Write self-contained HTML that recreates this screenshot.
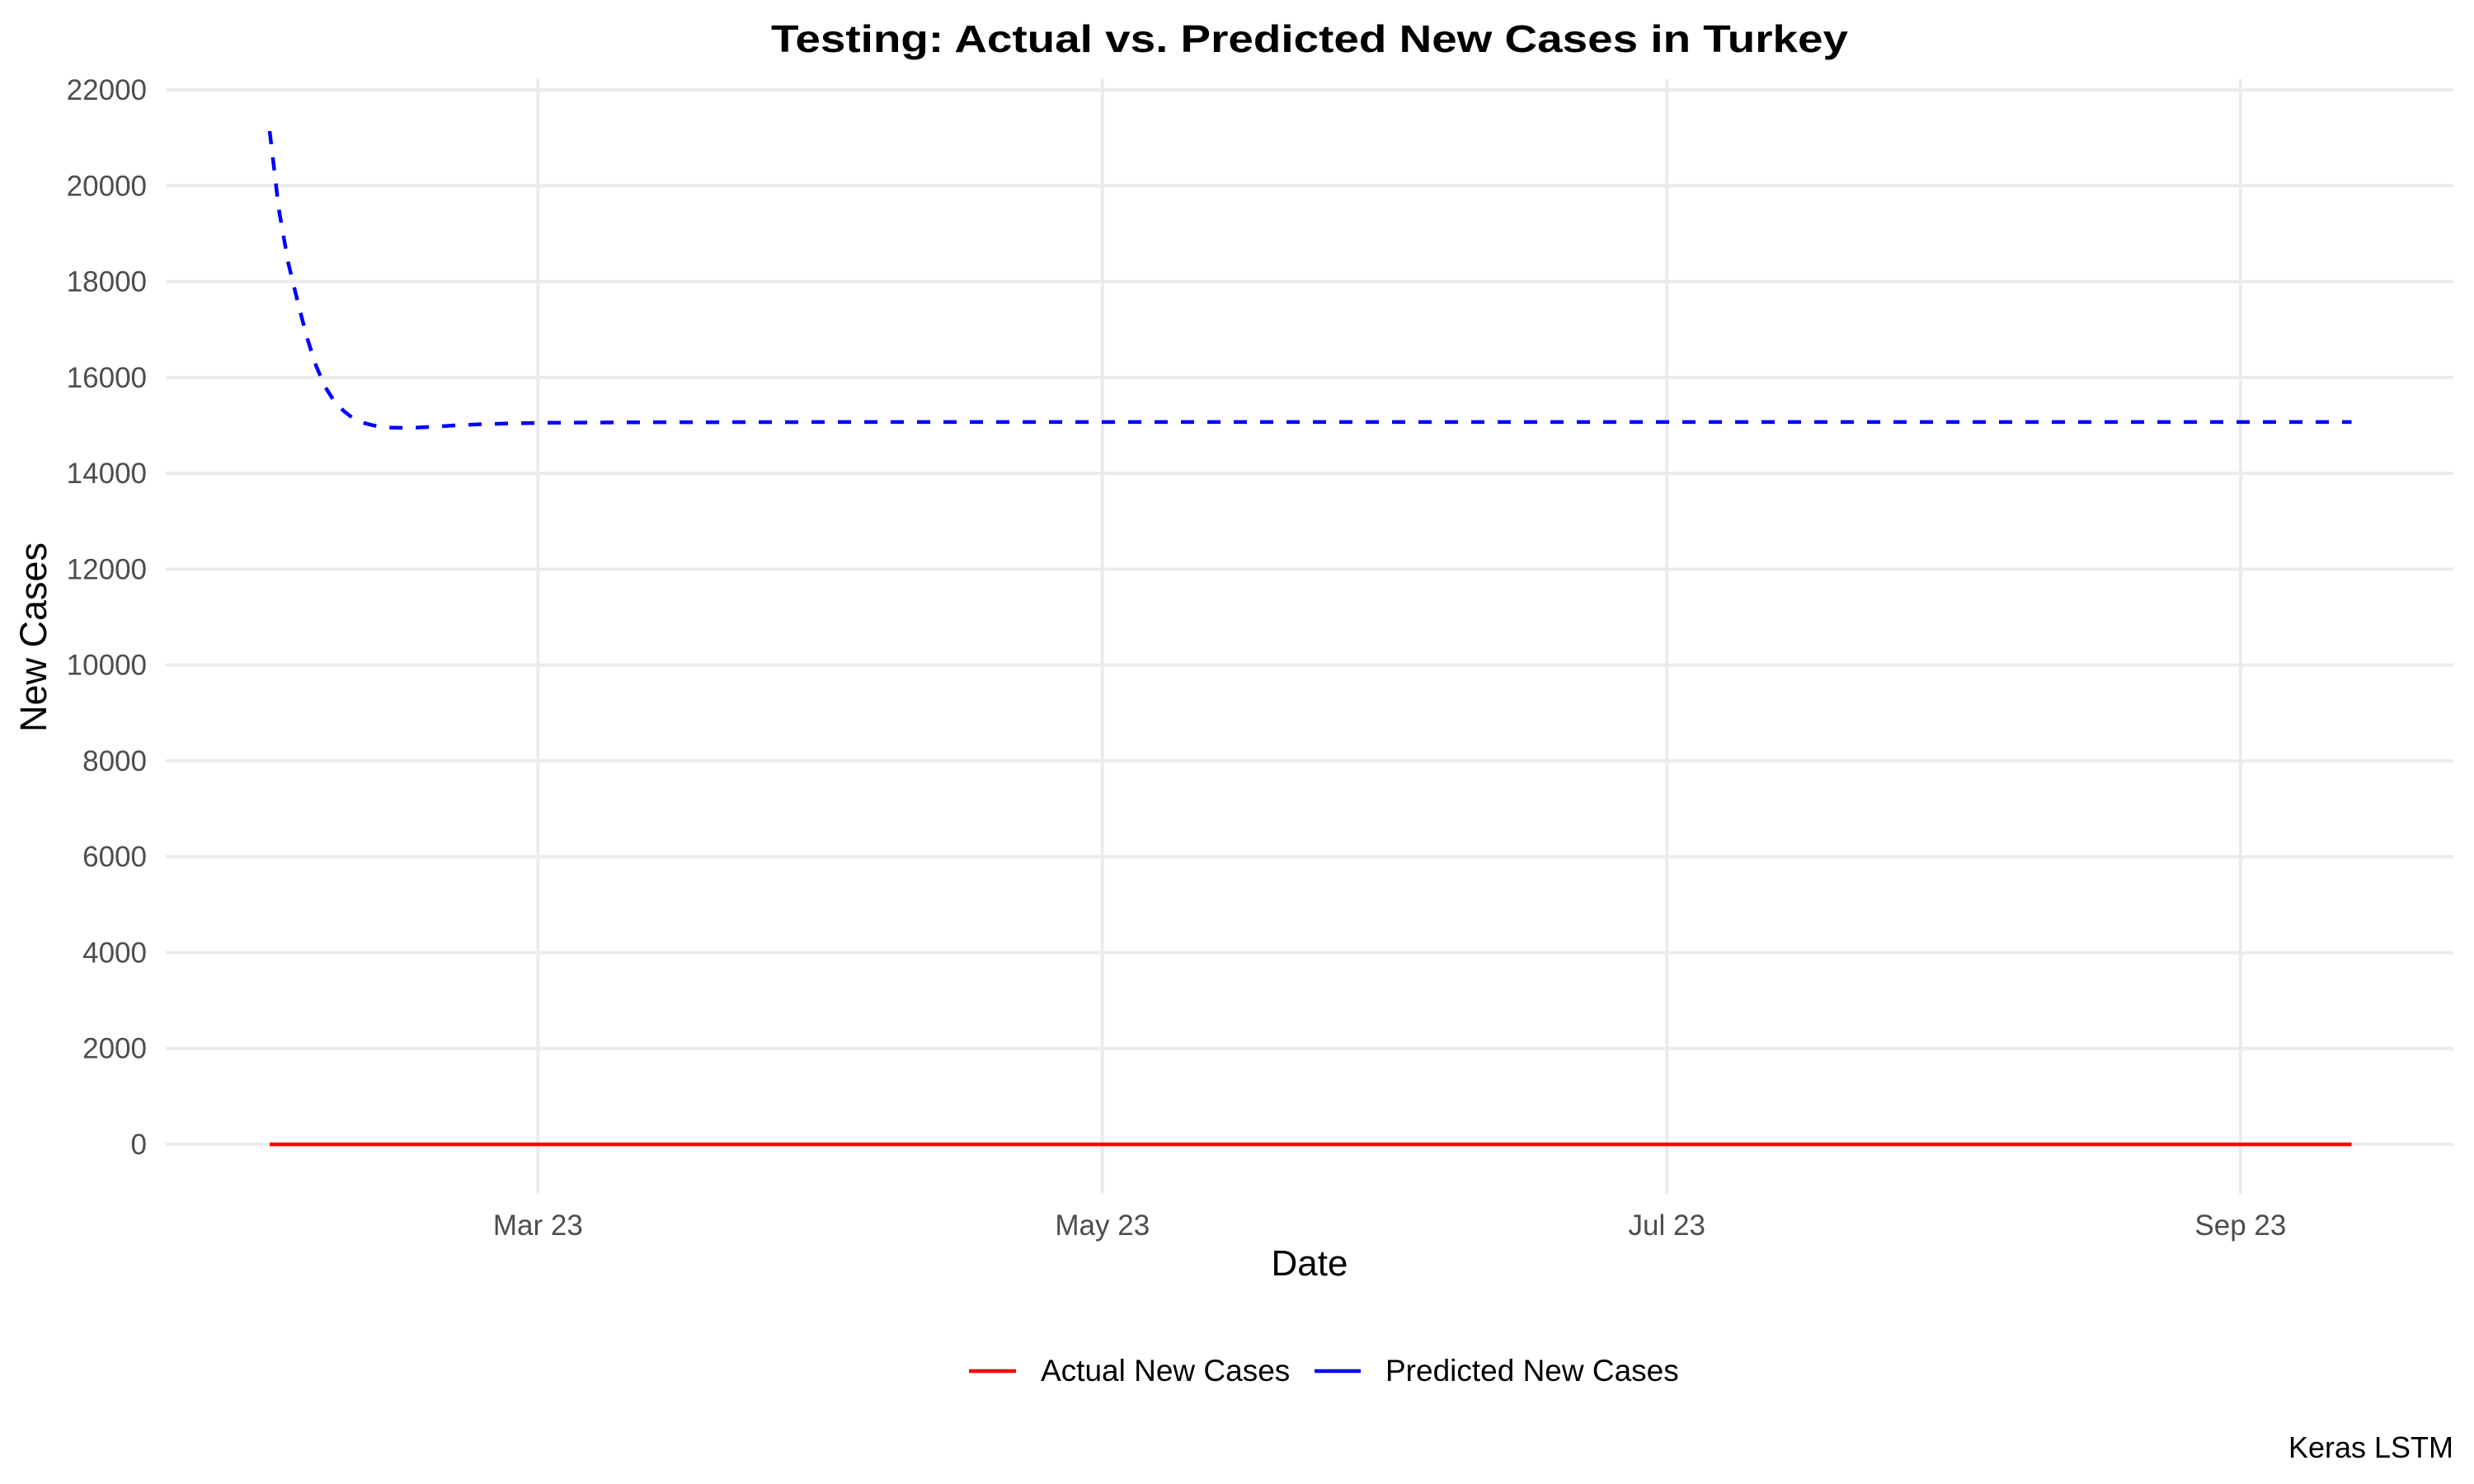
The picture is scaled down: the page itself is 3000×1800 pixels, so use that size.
<!DOCTYPE html>
<html><head><meta charset="utf-8"><style>
html,body{margin:0;padding:0;background:#fff;}
svg{display:block;font-family:"Liberation Sans",Arial,sans-serif;}
</style></head><body>
<svg id="chart" width="3000" height="1800" viewBox="0 0 3000 1800" xmlns="http://www.w3.org/2000/svg">
<rect width="3000" height="1800" fill="#fff"/>
<text x="1588" y="63" text-anchor="middle" font-size="46" font-weight="bold" textLength="1306" lengthAdjust="spacingAndGlyphs">Testing: Actual vs. Predicted New Cases in Turkey</text>
<g id="grid"></g>
<g id="series"></g>
<g id="axes"></g>
<text x="1588" y="1547" text-anchor="middle" font-size="44">Date</text>
<text transform="translate(56,773) rotate(-90)" text-anchor="middle" font-size="45">New Cases</text>
<g>
<g>
<line x1="1175" y1="1663" x2="1232" y2="1663" stroke="#ff0000" stroke-width="4.5"/>
<text x="1262" y="1675" font-size="37">Actual New Cases</text>
</g>
<g>
<line x1="1594" y1="1663" x2="1650" y2="1663" stroke="#0000ff" stroke-width="4.5"/>
<text x="1680" y="1675" font-size="37">Predicted New Cases</text>
</g>
</g>
<text x="2975" y="1768" text-anchor="end" font-size="36">Keras LSTM</text>
</svg>
<script>
// day offsets from 2023-01-31
const predDays = [0,1,2,3,4,5,6,7,8,9,10,11,12,13,14,16,18,20,23,26,30,40,60,100,150,225];
const predValues = [21140,19500,18400,17600,16850,16250,15800,15500,15300,15150,15060,15010,14970,14955,14950,14955,14975,15000,15025,15040,15055,15065,15070,15070,15070,15070];
const actualDays = [0,50,100,150,200,225];
const actualValues = [0,0,0,0,0,0];
const yTicks = [0,2000,4000,6000,8000,10000,12000,14000,16000,18000,20000,22000];
const xTickDays = [29,90,151,213];
const xTickLabels = ["Mar 23","May 23","Jul 23","Sep 23"];

const NS="http://www.w3.org/2000/svg";
const px0=201, px1=2975, py0=96, py1=1448;
function xS(d){return 327 + d*11.22;}
function yS(v){return 1388 - v/22000*1279;}
function mk(tag,attrs,parent){const e=document.createElementNS(NS,tag);for(const k in attrs)e.setAttribute(k,attrs[k]);parent.appendChild(e);return e;}
const grid=document.getElementById('grid'), axes=document.getElementById('axes'), series=document.getElementById('series');
yTicks.forEach(v=>{
  const l=mk('line',{x1:px0,x2:px1,y1:yS(v),y2:yS(v),stroke:'#ebebeb','stroke-width':4},grid);
  
  
  const t=mk('text',{x:178,y:yS(v)+12,'text-anchor':'end','font-size':35,fill:'#4d4d4d'},axes);
  t.textContent=v;
  
  
});
xTickDays.forEach((d,i)=>{
  const l=mk('line',{x1:xS(d),x2:xS(d),y1:py0,y2:py1,stroke:'#ebebeb','stroke-width':4},grid);
  
  
  const t=mk('text',{x:xS(d),y:1498,'text-anchor':'middle','font-size':35,fill:'#4d4d4d'},axes);
  t.textContent=xTickLabels[i];
  
  
});
function pts(ds,vs){return ds.map((d,i)=>xS(d).toFixed(1)+','+yS(vs[i]).toFixed(1)).join(' ');}
const a=mk('polyline',{points:pts(actualDays,actualValues),fill:'none',stroke:'#ff0000','stroke-width':4.5},series);


const p=mk('polyline',{points:pts(predDays,predValues),fill:'none',stroke:'#0000ff','stroke-width':4.5,'stroke-dasharray':'16 16','stroke-linejoin':'round'},series);


</script>
</body></html>
